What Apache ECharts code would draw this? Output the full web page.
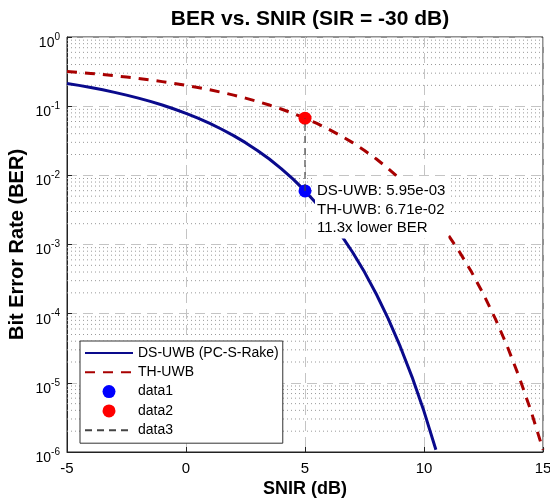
<!DOCTYPE html>
<html>
<head>
<meta charset="utf-8">
<script src="https://cdn.jsdelivr.net/npm/echarts@6/dist/echarts.min.js"></script>
<style>
  html, body { margin: 0; padding: 0; background: #fff; }
  #chart { width: 550px; height: 502px; }
</style>
</head>
<body>
<div id="chart"></div>
<script>
// SNIR (dB) sample points and BER readings
var snirDs = [-5, -4.5, -4, -3.5, -3, -2.5, -2, -1.5, -1, -0.5, 0, 0.5, 1, 1.5, 2, 2.5, 3, 3.5, 4, 4.5,
              5, 5.5, 6, 6.5, 7, 7.5, 8, 8.5, 9, 9.5, 10, 10.5];
var berDs = [0.2132, 0.1998, 0.1861, 0.1723, 0.1584, 0.1445, 0.1307, 0.1171, 0.1038, 0.0909,
             0.0786, 0.0671, 0.0563, 0.0464, 0.0375, 0.0297, 0.0229, 0.0172, 0.0125, 0.0088,
             0.00595, 0.00386, 0.00239, 0.0014, 7.73e-4, 3.99e-4, 1.91e-4, 8.4e-5, 3.36e-5, 1.21e-5,
             3.87e-6, 1.08e-6];
var snirTh = [-5, -4.5, -4, -3.5, -3, -2.5, -2, -1.5, -1, -0.5, 0, 0.5, 1, 1.5, 2, 2.5, 3, 3.5, 4, 4.5,
              5, 5.5, 6, 6.5, 7, 7.5, 8, 8.5, 9, 9.5, 10, 10.5, 11, 11.5, 12, 12.5, 13, 13.5, 14, 14.5, 15];
var berTh = [0.3179, 0.3079, 0.2975, 0.2867, 0.2755, 0.2638, 0.2517, 0.2392, 0.2264, 0.2132,
             0.1998, 0.1861, 0.1723, 0.1584, 0.1445, 0.1307, 0.1171, 0.1038, 0.0909, 0.0786,
             0.0671, 0.0563, 0.0464, 0.0375, 0.0297, 0.0229, 0.0172, 0.0125, 0.0088, 0.00595,
             0.00386, 0.00239, 0.0014, 7.73e-4, 3.99e-4, 1.91e-4, 8.4e-5, 3.36e-5, 1.21e-5, 3.87e-6,
             1.08e-6];
var markSnir = 5;
var markDs = 5.95e-3;
var markTh = 6.71e-2;
var noteLines = ['DS-UWB: 5.95e-03', 'TH-UWB: 6.71e-02', '11.3x lower BER'];
var xTicks = [-5, 0, 5, 10, 15];
var xRange = [-5, 15];
var yRange = [1e-6, 1];

function zip(xs, ys) {
    return xs.map(function (x, i) { return [x, ys[i]]; });
}

// dotted minor grid at 2..9 x 10^k, one broken polyline
var minorGrid = [];
for (var k = -6; k < 0; k++) {
    for (var m = 2; m <= 9; m++) {
        var v = m * Math.pow(10, k);
        minorGrid.push([xRange[0], v], [xRange[1], v], ['-', '-']);
    }
}

var chart = echarts.init(document.getElementById('chart'));
var font = 'Liberation Sans, Arial, sans-serif';
var noIcon = { color: 'rgba(0,0,0,0)', borderColor: 'rgba(0,0,0,0)', borderWidth: 0 };

var option = {
    animation: false,
    backgroundColor: '#fff',
    textStyle: { fontFamily: font },
    title: {
        text: 'BER vs. SNIR (SIR = -30 dB)',
        left: 305,
        textAlign: 'center',
        top: 4,
        textStyle: { fontSize: 21, fontWeight: 'bold', color: '#000', fontFamily: font }
    },
    grid: {
        left: 67, right: 7, top: 37, bottom: 50,
        containLabel: false,
        outerBoundsMode: 'none',
        show: true, borderColor: '#222', borderWidth: 1, backgroundColor: '#fff'
    },
    legend: {
        data: [
            { name: 'DS-UWB (PC-S-Rake)', itemStyle: noIcon },
            { name: 'TH-UWB', itemStyle: noIcon },
            { name: 'data1' },
            { name: 'data2' },
            { name: 'data3', itemStyle: noIcon }
        ],
        orient: 'vertical',
        left: 80,
        top: 341,
        itemWidth: 48,
        itemHeight: 13,
        itemGap: 5.3,
        padding: [5, 4, 6, 4],
        borderColor: '#333',
        borderWidth: 1,
        backgroundColor: '#fff',
        textStyle: { fontSize: 14, color: '#000', fontFamily: font }
    },
    xAxis: {
        type: 'value',
        min: xRange[0], max: xRange[1], interval: 5,
        name: 'SNIR (dB)',
        nameLocation: 'middle',
        nameGap: 28.5,
        nameMoveOverlap: false,
        nameTextStyle: { fontSize: 18, fontWeight: 'bold', color: '#000' },
        axisLine: { show: true, onZero: false, lineStyle: { color: '#222' } },
        axisTick: { show: true, inside: true, length: 5, lineStyle: { color: '#222' } },
        axisLabel: { fontSize: 15, color: '#000', margin: 9,
            formatter: function (v) { return xTicks.indexOf(v) >= 0 ? String(v) : ''; } },
        splitLine: { show: true, lineStyle: { color: '#c4c4c4', type: [10, 6], width: 1 } }
    },
    yAxis: {
        type: 'log',
        logBase: 10,
        min: yRange[0], max: yRange[1], interval: 1,
        name: 'Bit Error Rate (BER)',
        nameLocation: 'middle',
        nameGap: 39.5,
        nameMoveOverlap: false,
        nameTextStyle: { fontSize: 20, fontWeight: 'bold', color: '#000' },
        axisLine: { show: true, onZero: false, lineStyle: { color: '#222' } },
        axisTick: { show: true, inside: true, length: 5, lineStyle: { color: '#222' } },
        axisLabel: {
            margin: 7,
            color: '#000',
            padding: [8, 0, 0, 0],
            formatter: function (v) {
                var e = Math.round(Math.log10(v));
                return '{b|10}{s|' + e + '}';
            },
            rich: {
                b: { fontSize: 14, lineHeight: 18, verticalAlign: 'bottom', color: '#000' },
                s: { fontSize: 10, lineHeight: 10, verticalAlign: 'top', color: '#000' }
            }
        },
        splitLine: { show: true, lineStyle: { color: '#c4c4c4', type: [10, 6], width: 1 } }
    },
    series: [
        {
            name: 'minorGrid',
            type: 'line',
            data: minorGrid,
            symbol: 'none',
            silent: true,
            connectNulls: false,
            z: 1,
            lineStyle: { color: '#999', type: [1, 3], width: 1 }
        },
        {
            name: 'DS-UWB (PC-S-Rake)',
            type: 'line',
            data: zip(snirDs, berDs),
            symbol: 'none',
            z: 3,
            lineStyle: { color: '#0a0a8c', width: 3 },
            itemStyle: { color: '#0a0a8c' }
        },
        {
            name: 'TH-UWB',
            type: 'line',
            data: zip(snirTh, berTh),
            symbol: 'none',
            z: 3,
            lineStyle: { color: '#a80000', width: 3, type: [10, 8] },
            itemStyle: { color: '#a80000' }
        },
        {
            name: 'data1',
            type: 'scatter',
            data: [[markSnir, markDs]],
            symbol: 'circle',
            symbolSize: 13,
            z: 4,
            itemStyle: { color: '#0000ff', opacity: 1 }
        },
        {
            name: 'data2',
            type: 'scatter',
            data: [[markSnir, markTh]],
            symbol: 'circle',
            symbolSize: 13,
            z: 4,
            itemStyle: { color: '#ff0000', opacity: 1 }
        },
        {
            name: 'data3',
            type: 'line',
            data: [[markSnir, markDs], [markSnir, markTh]],
            symbol: 'none',
            z: 5,
            lineStyle: { color: '#444', width: 1.2, type: [7, 5] },
            itemStyle: { color: '#444' }
        }
    ]
};

chart.setOption(option);

// annotation box anchored to the DS-UWB marker
var p = chart.convertToPixel({ gridIndex: 0 }, [markSnir, markDs]);
chart.setOption({
    graphic: [{
        type: 'text',
        x: p[0] + 10,
        y: p[1] - 14,
        z: 100,
        silent: true,
        style: {
            text: noteLines.join('\n'),
            font: '15px ' + font,
            lineHeight: 18.5,
            fill: '#000',
            backgroundColor: '#fff',
            padding: [5, 3, 1, 2]
        }
    }]
});
</script>
</body>
</html>
